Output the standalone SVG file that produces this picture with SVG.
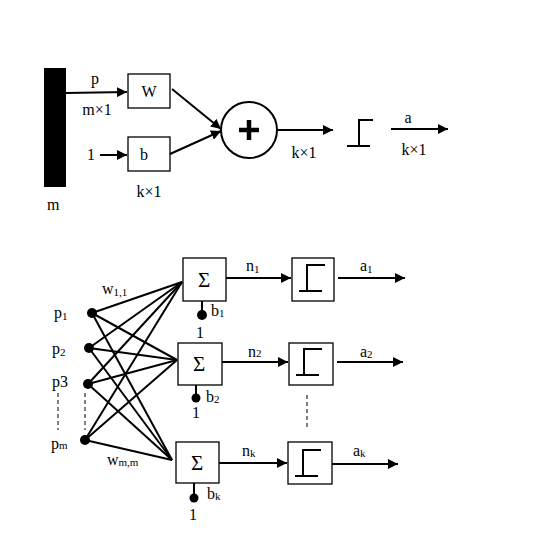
<svg xmlns="http://www.w3.org/2000/svg" width="556" height="550" viewBox="0 0 556 550" font-family="'Liberation Serif', 'Times New Roman', serif">
<style>
.box{fill:#fff;stroke:#000;stroke-width:1.3}
.ln{stroke:#000;stroke-width:2;fill:none}
.th{stroke:#000;stroke-width:2;fill:none}
.mesh{stroke:#000;stroke-width:2;fill:none}
.dash{stroke:#000;stroke-width:1;stroke-dasharray:4,3;fill:none}
text{font-family:'Liberation Serif','Times New Roman',serif;font-size:16px;fill:#000}
.sub{font-size:11px}
.sig{font-size:21px}
</style>
<defs>
<marker id="ah" viewBox="0 0 10 10" refX="10" refY="5" markerWidth="5" markerHeight="5" orient="auto" markerUnits="strokeWidth">
<path d="M0,0 L10,5 L0,10 z" fill="#000"/>
</marker>
</defs>
<rect width="556" height="550" fill="#fff"/>

<g id="input-bar">
<rect x="44" y="68" width="22" height="119" fill="#000"/>
<text x="47" y="210">m</text>
</g>
<g id="W">
<rect class="box" x="128" y="74" width="42" height="34"/>
<text x="149" y="97" text-anchor="middle">W</text>
</g>
<g id="b">
<rect class="box" x="128" y="137" width="42" height="34"/>
<text x="144" y="160" text-anchor="middle">b</text>
<text x="149" y="197" text-anchor="middle">k×1</text>
</g>
<g id="sum">
<circle cx="249" cy="130" r="28" fill="#fff" stroke="#000" stroke-width="2"/>
<path d="M249,120 V140 M239,130 H259" stroke="#000" stroke-width="4.5"/>
</g>
<g id="hardlim">
<path class="th" d="M347,146 H370 M359,146 V120 H373"/>
</g>
<g id="labels-top">
<text x="95" y="84" text-anchor="middle">p</text>
<text x="97" y="115" text-anchor="middle">m×1</text>
<text x="91" y="160" text-anchor="middle">1</text>
<text x="304" y="158" text-anchor="middle">k×1</text>
<text x="408" y="123" text-anchor="middle">a</text>
<text x="414" y="155" text-anchor="middle">k×1</text>
</g>

<g id="inputs">
<circle cx="92" cy="313" r="5"/>
<circle cx="89" cy="348" r="5"/>
<circle cx="88" cy="384" r="5"/>
<circle cx="85" cy="440" r="5"/>
<text x="54" y="318">p<tspan class="sub" dy="2">1</tspan></text>
<text x="52" y="354">p<tspan class="sub" dy="2">2</tspan></text>
<text x="52" y="387">p3</text>
<text x="51" y="449">p<tspan class="sub">m</tspan></text>
<path class="dash" d="M58,393 V430 M85,393 V430"/>
</g>
<g id="sum1">
<rect class="box" x="183" y="258" width="43" height="43"/>
<text class="sig" x="204" y="287" text-anchor="middle">Σ</text>
<line class="ln" x1="202" y1="301" x2="202" y2="314"/>
<circle cx="202" cy="315" r="5"/>
<text x="211" y="316">b<tspan class="sub" dy="1">1</tspan></text>
<text x="200" y="338" text-anchor="middle">1</text>
</g>
<g id="sum2">
<rect class="box" x="178" y="343" width="44" height="42"/>
<text class="sig" x="199" y="371" text-anchor="middle">Σ</text>
<line class="ln" x1="196" y1="385" x2="196" y2="397"/>
<circle cx="196" cy="398" r="4.5"/>
<text x="206" y="402">b<tspan class="sub" dy="1">2</tspan></text>
<text x="196" y="418" text-anchor="middle">1</text>
</g>
<g id="sumk">
<rect class="box" x="176" y="442" width="43" height="41"/>
<text class="sig" x="197" y="470" text-anchor="middle">Σ</text>
<line class="ln" x1="194" y1="483" x2="194" y2="497"/>
<circle cx="194" cy="498" r="4.5"/>
<text x="207" y="499">b<tspan class="sub" dy="1">k</tspan></text>
<text x="193" y="520" text-anchor="middle">1</text>
</g>
<g id="step1">
<rect class="box" x="292" y="258" width="42" height="43"/>
<path class="th" d="M299,291 H322 M307,291 V265 H325"/>
</g>
<g id="step2">
<rect class="box" x="289" y="343" width="44" height="42"/>
<path class="th" d="M296,375 H319 M304,375 V349 H322"/>
</g>
<g id="stepk">
<rect class="box" x="288" y="442" width="44" height="42"/>
<path class="th" d="M295,476 H318 M303,476 V450 H321"/>
</g>
<path class="dash" d="M307,395 V427"/>
<g id="labels-bottom">
<text x="102" y="294">w<tspan class="sub" dy="2">1,1</tspan></text>
<text x="107" y="465">w<tspan class="sub" dy="1">m,m</tspan></text>
<text x="246" y="271">n<tspan class="sub" dy="2">1</tspan></text>
<text x="360" y="271">a<tspan class="sub" dy="2">1</tspan></text>
<text x="248" y="357">n<tspan class="sub">2</tspan></text>
<text x="360" y="357">a<tspan class="sub" dy="1">2</tspan></text>
<text x="242" y="456">n<tspan class="sub" dy="1">k</tspan></text>
<text x="353" y="456">a<tspan class="sub" dy="1">k</tspan></text>
</g>

<g id="connectors">
<line class="ln" x1="66" y1="93" x2="127" y2="92" marker-end="url(#ah)"/>
<line class="ln" x1="100" y1="155" x2="127" y2="155" marker-end="url(#ah)"/>
<line class="ln" x1="172" y1="89" x2="221" y2="129" marker-end="url(#ah)"/>
<line class="ln" x1="170" y1="154" x2="221" y2="131" marker-end="url(#ah)"/>
<line class="ln" x1="277" y1="130" x2="333" y2="130" marker-end="url(#ah)"/>
<line class="ln" x1="391" y1="129" x2="448" y2="129" marker-end="url(#ah)"/>

<g class="mesh">
<line x1="92" y1="313" x2="182" y2="282"/>
<line x1="92" y1="313" x2="177" y2="360"/>
<line x1="92" y1="313" x2="172" y2="460"/>
<line x1="89" y1="348" x2="182" y2="282"/>
<line x1="89" y1="348" x2="177" y2="360"/>
<line x1="89" y1="348" x2="172" y2="460"/>
<line x1="88" y1="384" x2="182" y2="282"/>
<line x1="88" y1="384" x2="177" y2="360"/>
<line x1="88" y1="384" x2="172" y2="460"/>
<line x1="85" y1="440" x2="182" y2="282"/>
<line x1="85" y1="440" x2="177" y2="360"/>
<line x1="85" y1="440" x2="172" y2="460"/>
</g>

<line class="ln" x1="226" y1="278" x2="291" y2="278" marker-end="url(#ah)"/>
<line class="ln" x1="338" y1="278" x2="405" y2="278" marker-end="url(#ah)"/>
<line class="ln" x1="222" y1="362" x2="288" y2="362" marker-end="url(#ah)"/>
<line class="ln" x1="337" y1="362" x2="403" y2="362" marker-end="url(#ah)"/>
<line class="ln" x1="219" y1="463" x2="287" y2="463" marker-end="url(#ah)"/>
<line class="ln" x1="332" y1="464" x2="398" y2="464" marker-end="url(#ah)"/>
</g>
</svg>
